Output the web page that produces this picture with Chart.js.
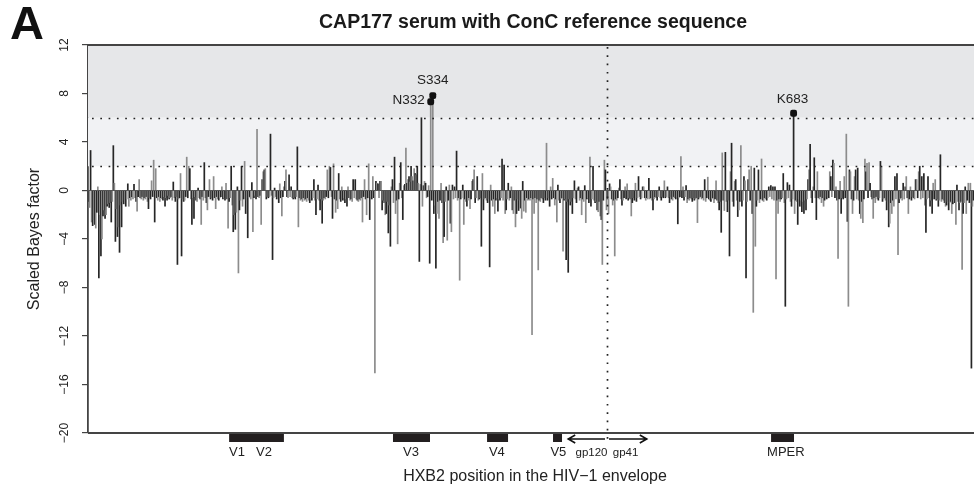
<!DOCTYPE html>
<html>
<head>
<meta charset="utf-8">
<script src="https://cdn.jsdelivr.net/npm/chart.js@4.4.1/dist/chart.umd.min.js"></script>
<style>
  html, body { margin: 0; padding: 0; background: #fff; }
</style>
</head>
<body>
<canvas id="chartCanvas" width="974" height="494"></canvas>
<script>
// --- data ---
// scaled Bayes factor per env position (1..857), 20 per row
const bayes = [
  -0.9,-1.4,3.3,-2.6,-2.9,-2.4,-2.8,-3.1,-1.8,0.3,-7.2,-2.0,-5.4,-4.0,-2.1,-1.6,-2.3,-2.0,-1.3,-1.1,
  -1.4,-1.0,-2.6,-0.9,3.7,0.6,-4.2,-1.5,-3.8,-3.0,-5.1,-1.2,-3.0,-0.9,-1.1,-0.8,-1.3,-0.7,0.55,-1.3,
  -0.6,-0.8,-0.5,-0.7,0.5,-0.6,-0.9,-1.7,-0.5,0.9,-0.6,-0.7,-0.5,-0.8,-0.6,-0.7,-0.5,-0.9,-1.5,-0.6,
  -0.7,0.8,-0.5,2.5,-2.6,1.8,-0.6,-0.8,-0.5,-0.9,-0.6,-0.7,-0.8,-0.5,-1.3,-0.6,-0.8,-0.4,-0.7,-0.6,
  -0.5,-0.8,0.7,-0.6,-0.9,-0.5,-6.1,-0.7,-0.6,1.4,-5.4,-0.7,-0.9,-0.8,-0.5,2.75,-0.6,2.0,1.8,-0.7,
  -2.8,-0.6,-2.3,-0.5,-0.8,-0.9,0.2,-0.6,-0.7,-2.8,-0.5,-0.8,2.3,-0.6,-1.0,-1.6,-0.5,0.9,-0.7,-0.6,
  -0.8,1.15,-0.6,-1.5,-0.5,-0.7,-0.8,-0.6,-0.5,0.3,-0.7,-0.6,-0.8,0.6,-0.7,-3.1,-0.9,-0.6,2.0,-1.2,
  -3.4,-2.0,-3.2,-1.8,0.3,-6.8,-1.6,-0.8,2.0,-1.3,-0.7,2.4,-1.9,-0.8,-3.9,-0.6,-0.5,-0.7,0.65,-3.4,
  -0.6,-0.4,-0.7,5.05,-0.5,-0.6,-0.4,-2.8,0.9,1.55,1.7,1.8,-0.7,-0.5,-0.6,-0.5,4.65,-0.4,-5.7,-0.6,
  0.2,-0.5,-0.7,-0.6,-1.0,0.55,-0.6,-2.1,-0.5,0.3,0.75,1.7,-0.5,-0.6,1.3,-0.5,0.3,-0.6,-0.7,-0.6,
  -0.7,-0.5,3.6,-3.0,-0.6,-0.8,-0.7,-0.9,-0.6,-0.8,-0.7,-0.9,-0.6,-0.8,-1.0,-0.7,-0.8,-0.6,0.9,-0.8,
  -2.0,-0.7,0.45,-0.8,-1.6,-0.7,-2.7,-0.8,-0.6,-0.7,-0.5,1.7,-0.6,2.0,1.9,-0.5,-2.3,2.2,-0.7,-1.8,
  -0.8,-1.5,1.4,-0.7,-0.9,0.3,-0.8,-0.6,-1.0,-0.7,-1.3,0.3,-0.6,-0.8,-0.7,-0.9,0.9,-0.6,0.9,-0.7,
  -0.8,-0.9,-0.7,-0.8,-0.6,-2.6,-0.5,0.9,-0.7,-2.0,-0.6,2.2,-2.4,-0.5,-0.7,1.15,-0.6,-15.05,0.75,0.6,
  0.55,-0.6,0.75,0.75,-1.6,-0.8,-1.0,-2.0,-1.9,-0.9,-3.5,-1.2,-4.6,0.3,0.9,-1.0,2.75,-1.9,-0.8,-4.4,
  -0.7,0.6,2.3,-0.6,-2.4,0.4,0.5,3.5,0.6,0.9,1.15,0.7,2.0,1.15,0.8,1.8,1.4,1.3,2.0,0.6,
  -5.85,0.5,6.0,-1.3,0.4,0.75,0.6,-0.6,-0.5,0.4,-6.0,7.32,-0.8,7.82,-1.9,-1.2,-6.4,-1.9,-0.9,-2.3,
  -0.8,0.6,-1.0,-4.3,-3.8,-0.9,0.3,-4.1,-0.8,0.45,-2.7,-3.4,0.45,-0.7,0.3,-0.6,3.25,-0.8,-0.6,-7.4,
  -0.7,-0.6,0.45,-2.8,-0.7,-0.9,-1.3,-0.8,-0.6,-1.5,-0.7,0.75,0.9,1.7,-1.0,-0.6,1.15,-0.8,-0.7,-0.6,
  -4.6,1.4,-1.6,-0.7,-0.6,-0.8,-1.0,-0.7,-6.3,0.45,-0.8,-1.3,-0.7,-1.9,-0.8,-0.6,-1.7,-0.7,-0.8,-0.6,
  2.6,-0.8,2.1,-1.9,-1.6,-0.7,0.6,-0.8,-0.6,0.3,-1.6,-1.9,-0.8,-3.0,-1.9,-0.7,-1.65,-0.8,-1.45,-2.3,
  0.75,-1.7,-0.8,-1.8,-0.6,-0.8,-0.7,-0.8,-0.6,-11.9,-0.7,-1.9,-0.6,-1.0,-0.7,-6.55,-0.8,-0.9,-0.6,-0.7,
  -1.0,-0.6,-0.8,3.9,-0.8,-0.6,-1.3,0.3,-0.7,1.0,-0.6,-1.2,-0.7,-2.6,0.45,-0.8,-1.0,-0.7,-0.6,-5.0,
  -0.8,-0.7,-5.7,-0.9,-6.75,-0.7,-1.2,-0.9,-1.9,-0.6,0.8,-0.7,-1.0,0.2,0.3,-0.8,-0.6,-2.0,-0.7,-0.9,
  0.4,-2.65,-0.7,-0.6,-1.0,2.75,-1.3,-0.7,2.0,-0.8,-1.0,-0.9,-1.6,-1.75,-0.9,-2.1,-2.4,-6.1,-0.8,2.5,
  1.7,-1.6,-0.7,-1.9,0.55,0.3,-0.7,-1.2,-0.8,-5.4,-0.7,-0.8,-0.6,0.2,0.9,-0.7,-1.2,-0.8,-0.6,0.3,
  -0.7,0.55,-0.8,-0.6,-0.7,-2.1,-1.0,-0.6,-0.8,0.6,-0.9,-0.6,1.15,-0.5,-0.7,-0.6,0.3,0.3,-0.6,-0.8,
  -0.6,-0.7,1.0,-0.7,-0.6,-0.8,-1.6,-0.7,-0.5,-0.6,-0.8,-0.5,0.3,-0.6,-0.8,-0.5,-0.6,0.8,-0.6,-0.5,
  0.3,-0.6,-1.0,-0.5,-0.7,-0.8,-0.5,-0.6,-0.7,-0.5,-2.75,-0.6,-0.5,2.8,-0.6,0.3,-0.8,-0.5,0.4,-1.0,
  -0.7,-0.8,-0.6,-0.7,-0.9,-0.6,-0.8,-0.7,-0.6,-2.65,-0.7,-0.6,-0.5,-0.7,-0.6,-0.8,0.9,-0.9,-0.6,1.1,
  -0.7,-0.8,-0.9,-0.7,-0.6,-1.0,-0.7,0.8,-0.8,-1.0,-1.6,-0.9,-3.45,3.1,-0.8,-1.65,3.15,-0.9,-1.75,-0.8,
  -5.4,1.55,3.9,-0.9,-1.3,0.75,0.9,-0.8,-2.15,-1.6,-0.9,3.7,-1.3,-0.8,1.15,0.8,-7.2,-0.9,0.9,1.7,
  -0.8,2.0,-1.9,-10.05,1.85,-4.6,-1.3,-0.8,1.7,-1.0,-0.7,2.6,-0.8,-0.9,-0.6,-0.7,-0.8,-0.6,0.3,-0.5,
  0.4,-0.7,0.3,-0.8,0.3,-7.3,-0.8,-1.9,-0.7,-0.9,-0.7,-0.6,1.4,-1.0,-9.55,-0.7,0.65,-0.6,0.45,-0.9,
  -1.3,-0.7,6.37,-1.9,-0.8,-0.9,-2.8,-0.7,-1.3,-0.8,-1.75,-0.9,-1.9,-0.8,-1.6,-0.7,0.9,1.7,3.8,-0.6,
  -1.0,0.3,2.7,-0.6,-2.4,1.55,-0.6,-0.7,-0.5,-1.0,-0.6,-1.3,-0.8,-0.6,-0.7,-0.5,-0.6,1.55,1.15,-0.5,
  2.5,2.25,-0.6,0.3,-0.8,-5.6,-0.7,0.75,-1.9,-0.6,-0.7,1.15,-0.6,4.65,-2.55,-9.55,1.7,1.55,-0.7,-1.9,
  -0.8,1.15,1.7,-0.7,1.85,-0.8,-1.9,-2.3,-0.9,-2.65,-0.7,2.6,1.55,2.25,-0.6,2.3,0.6,-0.5,-0.7,-2.3,
  -0.6,-1.0,-0.5,-0.7,-0.8,-0.6,2.4,2.0,-0.9,-0.7,-0.6,-0.8,-1.6,-0.9,-3.0,-2.7,-1.0,-1.9,-0.8,-1.3,
  1.15,-0.7,1.4,-5.3,-1.0,-0.7,-0.6,-0.8,0.6,-0.7,0.3,1.15,-0.6,-1.9,-0.7,0.3,-0.8,-0.5,-0.6,-0.7,
  0.9,0.9,-0.6,1.55,2.0,-0.7,1.15,-0.6,1.4,-1.2,-3.45,-0.7,1.15,-0.6,-1.3,-0.8,-1.9,0.6,-0.7,0.9,
  -0.8,-0.7,-1.3,-0.8,2.95,-0.9,-0.7,-0.8,-1.0,-1.3,-1.2,-0.9,-1.6,-1.0,-0.9,-1.9,-1.1,-0.9,-1.0,-2.8,
  0.45,-0.9,-1.6,-1.0,-0.9,-6.5,-1.9,-1.0,0.3,-1.9,-0.8,0.6,-1.0,0.6,-14.65,-1.3,-0.8
];

// labelled sites
const siteNames = ["N332", "S334", "K683"];
const sitePos = [332, 334, 683];

// y axis
const yTicks = [12, 8, 4, 0, -4, -8, -12, -16, -20];
const thresholds = [2, 6];
const gpBoundary = 502.5;

// env regions drawn under the axis
const regionStart = [137, 295.5, 386.5, 450.3, 661.2];
const regionEnd = [190, 331.3, 406.8, 459, 683.4];
const regionNames = ["V1", "V2", "V3", "V4", "V5", "MPER"];
const regionLabelPos = [144.6, 170.7, 312.9, 396, 455.5, 675.5];
const subunitNames = ["gp120", "gp41"];
const subunitLabelPos = [487.5, 520.5];
const arrowSpan = [465, 541];

const FONT = "'Liberation Sans', Arial, Helvetica, sans-serif";

// --- custom drawing: bands, dotted lines, frame, annotations ---
const decor = {
  id: "decor",
  beforeDatasetsDraw(chart) {
    const { ctx, chartArea: a, scales: { y } } = chart;
    ctx.save();
    const y12 = y.getPixelForValue(12), y6 = y.getPixelForValue(6), y2 = y.getPixelForValue(2);
    ctx.fillStyle = "#e6e7e9";
    ctx.fillRect(a.left, y12, a.width, y6 - y12);
    ctx.fillStyle = "#f1f2f4";
    ctx.fillRect(a.left, y6, a.width, y2 - y6);
    ctx.restore();
  },
  afterDatasetsDraw(chart) {
    const { ctx, chartArea: a, scales: { x, y } } = chart;
    ctx.save();
    // zero line
    const y0 = y.getPixelForValue(0);
    ctx.strokeStyle = "#555";
    ctx.lineWidth = 1;
    ctx.beginPath(); ctx.moveTo(a.left, y0); ctx.lineTo(a.right, y0); ctx.stroke();

    // dotted lines
    ctx.strokeStyle = "#222";
    ctx.lineWidth = 1.7;
    ctx.setLineDash([1.7, 6.6]);
    thresholds.forEach(t => {
      const py = Math.round(y.getPixelForValue(t)) + 0.5;
      ctx.beginPath(); ctx.moveTo(a.left + 4, py); ctx.lineTo(a.right, py); ctx.stroke();
    });
    const bx = Math.round(x.getPixelForValue(gpBoundary)) + 0.5;
    ctx.beginPath(); ctx.moveTo(bx, a.top + 2); ctx.lineTo(bx, a.bottom + 8); ctx.stroke();
    ctx.setLineDash([]);

    // frame top / bottom
    ctx.strokeStyle = "#444";
    ctx.lineWidth = 1.8;
    ctx.beginPath(); ctx.moveTo(a.left, a.top); ctx.lineTo(a.right, a.top); ctx.stroke();
    ctx.beginPath(); ctx.moveTo(a.left, a.bottom); ctx.lineTo(a.right, a.bottom); ctx.stroke();

    // site labels
    const meta = chart.getDatasetMeta(1);
    ctx.fillStyle = "#222";
    ctx.font = "13.5px " + FONT;
    ctx.textBaseline = "middle";
    meta.data.forEach((pt, i) => {
      const name = siteNames[i];
      if (name === "N332") {
        ctx.textAlign = "right";
        ctx.fillText(name, pt.x - 6, pt.y - 1);
      } else if (name === "S334") {
        ctx.textAlign = "center";
        ctx.fillText(name, pt.x, pt.y - 15);
      } else {
        ctx.textAlign = "center";
        ctx.fillText(name, pt.x - 1, pt.y - 13.5);
      }
    });
    ctx.restore();
  },
  afterDraw(chart) {
    const { ctx, chartArea: a, scales: { x } } = chart;
    ctx.save();
    ctx.fillStyle = "#111";

    // "A" panel letter
    ctx.font = "bold 47px " + FONT;
    ctx.textAlign = "left";
    ctx.textBaseline = "alphabetic";
    ctx.fillText("A", 10, 39);

    // title
    ctx.fillStyle = "#1a1a1a";
    ctx.font = "bold 19.5px " + FONT;
    ctx.textAlign = "center";
    ctx.fillText("CAP177 serum with ConC reference sequence", 533, 27.5);

    // region bars
    ctx.fillStyle = "#231f20";
    regionStart.forEach((s, i) => {
      const x0 = x.getPixelForValue(s), x1 = x.getPixelForValue(regionEnd[i]);
      ctx.fillRect(x0, a.bottom + 1, x1 - x0, 8);
    });

    // region labels
    ctx.fillStyle = "#222";
    ctx.textBaseline = "middle";
    ctx.font = "13px " + FONT;
    regionNames.forEach((n, i) => ctx.fillText(n, x.getPixelForValue(regionLabelPos[i]), a.bottom + 19));
    ctx.font = "11.5px " + FONT;
    subunitNames.forEach((n, i) => ctx.fillText(n, x.getPixelForValue(subunitLabelPos[i]), a.bottom + 19.5));

    // gp120 / gp41 arrows
    const ax0 = x.getPixelForValue(arrowSpan[0]), ax1 = x.getPixelForValue(arrowSpan[1]);
    const bx = x.getPixelForValue(gpBoundary);
    const ay = a.bottom + 6;
    ctx.strokeStyle = "#111";
    ctx.lineWidth = 1.6;
    ctx.beginPath();
    ctx.moveTo(ax0, ay); ctx.lineTo(bx - 2, ay);
    ctx.moveTo(bx + 2, ay); ctx.lineTo(ax1, ay);
    ctx.moveTo(ax0 + 7, ay - 4); ctx.lineTo(ax0, ay); ctx.lineTo(ax0 + 7, ay + 4);
    ctx.moveTo(ax1 - 7, ay - 4); ctx.lineTo(ax1, ay); ctx.lineTo(ax1 - 7, ay + 4);
    ctx.stroke();

    // x axis title
    ctx.font = "16px " + FONT;
    ctx.fillStyle = "#222";
    ctx.fillText("HXB2 position in the HIV\u22121 envelope", 535, 477);
    ctx.restore();
  }
};

const canvas = document.getElementById("chartCanvas");

new Chart(canvas, {
  data: {
    datasets: [
      {
        type: "bar",
        data: bayes.map((v, i) => ({ x: i + 1, y: v })),
        backgroundColor: bayes.map((v, i) => (i % 2 ? "#8c8c8c" : "#262626")),
        borderWidth: 0,
        barPercentage: 1,
        categoryPercentage: 1,
        grouped: false,
        order: 2
      },
      {
        type: "scatter",
        data: sitePos.map(p => ({ x: p, y: bayes[p - 1] })),
        backgroundColor: "#111",
        borderColor: "#111",
        borderWidth: 0,
        pointStyle: "rectRounded",
        pointRadius: 4,
        order: 1
      }
    ]
  },
  options: {
    responsive: false,
    animation: false,
    layout: { autoPadding: false, padding: { top: 45, bottom: 61, left: 0, right: 0 } },
    plugins: { legend: { display: false }, tooltip: { enabled: false } },
    scales: {
      x: { type: "linear", min: 0.5, max: 857.5, offset: false, display: false },
      y: {
        min: -20,
        max: 12,
        afterBuildTicks: s => { s.ticks = yTicks.map(v => ({ value: v })); },
        afterFit: s => { s.width = 88; },
        grid: { drawOnChartArea: false, drawTicks: true, tickLength: 6, color: "#444", lineWidth: 1.2 },
        border: { display: true, color: "#444", width: 1.8 },
        ticks: {
          minRotation: 90,
          maxRotation: 90,
          crossAlign: "center",
          padding: 7,
          color: "#222",
          font: { family: FONT, size: 12 },
          callback: v => String(v).replace("-", "\u2212")
        },
        title: {
          display: true,
          text: "Scaled Bayes factor",
          color: "#222",
          font: { family: FONT, size: 16 },
          padding: { top: 25, bottom: 0 }
        }
      }
    }
  },
  plugins: [decor]
});
</script>
</body>
</html>
